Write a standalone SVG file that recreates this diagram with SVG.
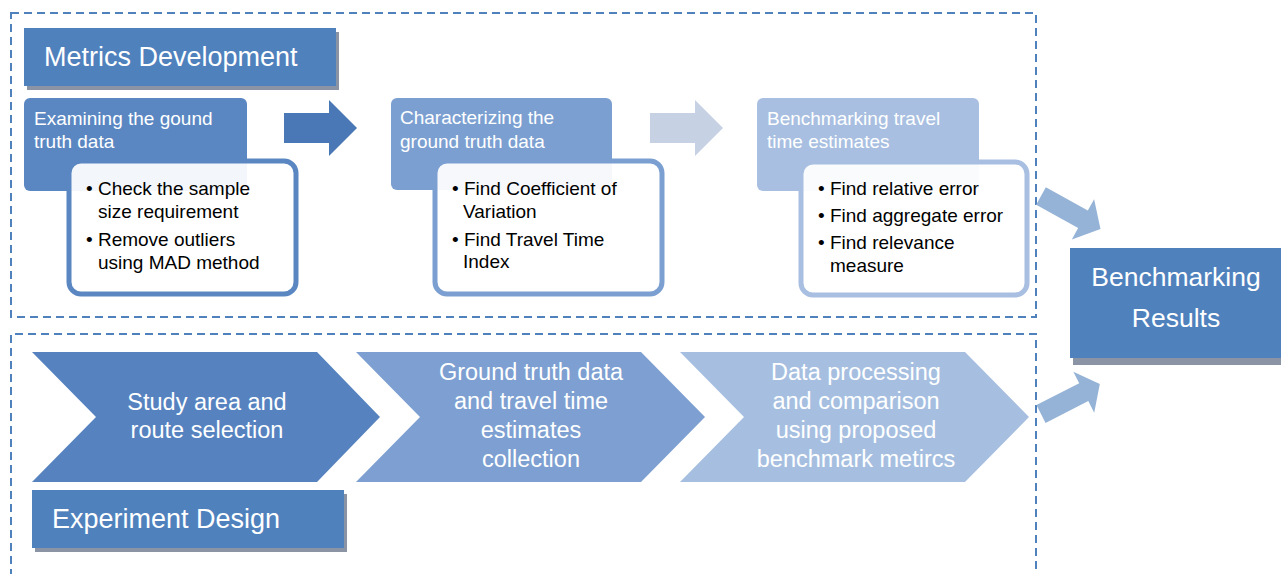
<svg xmlns="http://www.w3.org/2000/svg" width="1281" height="574" viewBox="0 0 1281 574">
<defs>
<style>
.frame{fill:none;stroke:#4f81bd;stroke-width:2;stroke-dasharray:8 5}
.hdr{fill:#4f81bd}
.shd{fill:#8a94a4}
.wt{fill:#ffffff;font-family:"Liberation Sans",Arial,sans-serif}
.bk{fill:#000000;font-family:"Liberation Sans",Arial,sans-serif;font-size:19px}
.sub{font-size:19px}
.hd{font-size:27px}
.ch{font-size:23.5px;text-anchor:middle}
.wbox{fill:#ffffff;fill-opacity:0.93;stroke-width:5}
</style>
</defs>
<rect width="1281" height="574" fill="#ffffff"/>
<g id="frames">
<rect class="frame" x="11" y="13" width="1025" height="304"/>
<path class="frame" d="M11,590 L11,334 L1036,334 L1036,590"/>
</g>
<g id="metrics-header">
<rect class="shd" x="27" y="32" width="312" height="58"/>
<rect class="hdr" x="24" y="28" width="312" height="58"/>
<text class="wt hd" x="44" y="66">Metrics Development</text>
</g>
<g id="examining">
<rect x="24" y="98" width="223" height="93" rx="6" fill="#5a87c2"/>
<text class="wt sub" x="34" y="125">Examining the gound</text>
<text class="wt sub" x="34" y="148">truth data</text>
</g>
<g id="examining-list">
<rect class="wbox" x="69" y="161" width="227" height="133" rx="12" stroke="#5a87c2"/>
<text class="bk" x="86" y="195">• Check the sample</text>
<text class="bk" x="98" y="218">size requirement</text>
<text class="bk" x="86" y="246">• Remove outliers</text>
<text class="bk" x="98" y="269">using MAD method</text>
</g>
<g id="characterizing">
<rect x="391" y="98" width="221" height="92" rx="6" fill="#7b9fd1"/>
<text class="wt sub" x="400" y="124">Characterizing the</text>
<text class="wt sub" x="400" y="148">ground truth data</text>
</g>
<g id="characterizing-list">
<rect class="wbox" x="435" y="161" width="227" height="133" rx="12" stroke="#7b9fd1"/>
<text class="bk" x="452" y="195">• Find Coefficient of</text>
<text class="bk" x="463" y="218">Variation</text>
<text class="bk" x="452" y="246">• Find Travel Time</text>
<text class="bk" x="463" y="268">Index</text>
</g>
<g id="benchmarking">
<rect x="757" y="98" width="222" height="93" rx="6" fill="#a8bfe1"/>
<text class="wt sub" x="767" y="125">Benchmarking travel</text>
<text class="wt sub" x="767" y="148">time estimates</text>
</g>
<g id="benchmarking-list">
<rect class="wbox" x="801" y="162" width="226" height="133" rx="12" stroke="#a8bfe1"/>
<text class="bk" x="818" y="195">• Find relative error</text>
<text class="bk" x="818" y="222">• Find aggregate error</text>
<text class="bk" x="818" y="249">• Find relevance</text>
<text class="bk" x="830" y="272">measure</text>
</g>
<g id="results">
<rect class="shd" x="1073" y="252" width="208" height="113"/>
<rect class="hdr" x="1070" y="248" width="211" height="110"/>
<text class="wt" x="1176" y="286" font-size="26.5" text-anchor="middle">Benchmarking</text>
<text class="wt" x="1176" y="327" font-size="26.5" text-anchor="middle">Results</text>
</g>
<g id="chevron-study">
<polygon points="32,352 317,352 380,417 317,482 32,482 96,417" fill="#5683c0"/>
<text class="wt ch" x="207" y="410">Study area and</text>
<text class="wt ch" x="207" y="438">route selection</text>
</g>
<g id="chevron-collection">
<polygon points="356,352 641,352 705,417 641,482 356,482 420,417" fill="#7d9fd1"/>
<text class="wt ch" x="531" y="380">Ground truth data</text>
<text class="wt ch" x="531" y="409">and travel time</text>
<text class="wt ch" x="531" y="438">estimates</text>
<text class="wt ch" x="531" y="467">collection</text>
</g>
<g id="chevron-processing">
<polygon points="680,352 965,352 1029,417 965,482 680,482 744,417" fill="#a6bfe1"/>
<text class="wt ch" x="856" y="380">Data processing</text>
<text class="wt ch" x="856" y="409">and comparison</text>
<text class="wt ch" x="856" y="438">using proposed</text>
<text class="wt ch" x="856" y="467">benchmark metircs</text>
</g>
<g id="experiment-header">
<rect class="shd" x="35" y="494" width="312" height="58"/>
<rect class="hdr" x="32" y="490" width="312" height="58"/>
<text class="wt hd" x="52" y="528">Experiment Design</text>
</g>
<g id="connectors">
<polygon points="284,113 329,113 329,100 357,128 329,156 329,143 284,143" fill="#4a78b6"/>
<polygon points="650,113 695,113 695,100 723,128 695,156 695,143 650,143" fill="#c6d1e4"/>
<polygon transform="translate(1041,196) rotate(29)" points="0,-10 48,-10 48,-23 68,0 48,23 48,10 0,10" fill="#95b3d7"/>
<polygon transform="translate(1041,414) rotate(-27)" points="0,-10 48,-10 48,-23 66,0 48,23 48,10 0,10" fill="#95b3d7"/>
</g>
</svg>
